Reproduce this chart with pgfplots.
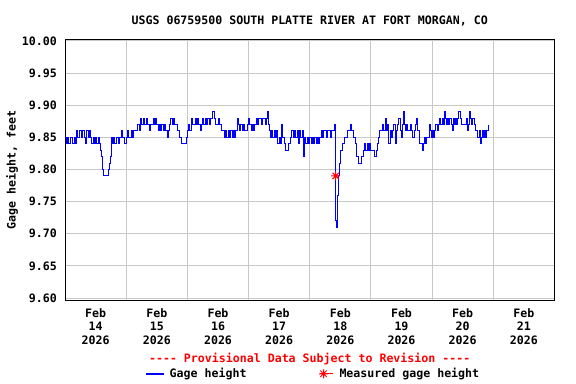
\documentclass[border=0pt]{standalone}
\usepackage{pgfplots}
\pgfplotsset{compat=1.18}
\usepackage{pgfplotstable}
\usepackage{fontspec}
\newfontfamily\usgsmono{DejaVu Sans Mono}
\newcommand\uf{\usgsmono\bfseries\fontsize{11.6bp}{13.5bp}\selectfont}
\definecolor{gridgray}{RGB}{200,200,200}
\definecolor{usgsblue}{RGB}{0,0,255}
\definecolor{usgsred}{RGB}{255,0,0}

\pgfdeclareplotmark{star8}{%
 \pgfpathmoveto{\pgfqpoint{-\pgfplotmarksize}{0pt}}\pgfpathlineto{\pgfqpoint{\pgfplotmarksize}{0pt}}%
 \pgfpathmoveto{\pgfqpoint{0pt}{-\pgfplotmarksize}}\pgfpathlineto{\pgfqpoint{0pt}{\pgfplotmarksize}}%
 \pgfpathmoveto{\pgfqpoint{-0.707\pgfplotmarksize}{-0.707\pgfplotmarksize}}\pgfpathlineto{\pgfqpoint{0.707\pgfplotmarksize}{0.707\pgfplotmarksize}}%
 \pgfpathmoveto{\pgfqpoint{-0.707\pgfplotmarksize}{0.707\pgfplotmarksize}}\pgfpathlineto{\pgfqpoint{0.707\pgfplotmarksize}{-0.707\pgfplotmarksize}}%
 \pgfusepathqstroke}

% hours since Feb 14 2026 00:00, gage height (ft)
\pgfplotstableread{
h v
0 9.85
0.5 9.84
1 9.85
1.5 9.84
2 9.85
2.5 9.85
3 9.84
3.5 9.85
4 9.84
4.5 9.86
5 9.85
5.5 9.86
6 9.86
6.5 9.85
7 9.86
7.5 9.85
8 9.84
8.5 9.86
9 9.85
9.5 9.86
10 9.85
10.5 9.84
11 9.85
11.5 9.84
12 9.85
12.5 9.84
13 9.85
13.5 9.84
14 9.83
14.4 9.82
14.8 9.80
15.2 9.79
16.6 9.79
16.9 9.80
17.3 9.81
17.7 9.82
18.2 9.85
18.5 9.84
19 9.85
19.5 9.84
20 9.85
20.5 9.85
21 9.84
21.5 9.85
22 9.86
22.5 9.85
23 9.85
23.5 9.84
24 9.85
24.5 9.86
25 9.85
25.5 9.85
26 9.86
26.5 9.85
27 9.86
27.5 9.86
28 9.86
28.5 9.87
29 9.86
29.4 9.88
29.8 9.87
30.2 9.87
30.6 9.88
31 9.87
31.5 9.87
32 9.88
32.5 9.87
33 9.86
33.5 9.87
34 9.87
34.5 9.88
35 9.87
35.5 9.88
36 9.87
36.5 9.86
37 9.87
37.5 9.86
38 9.87
38.5 9.86
39 9.87
39.5 9.86
40.2 9.85
40.6 9.86
41 9.87
41.5 9.88
42 9.87
42.5 9.88
43 9.87
43.5 9.87
44 9.86
44.5 9.86
45 9.85
45.5 9.84
47.3 9.84
47.6 9.85
48 9.86
48.5 9.87
49 9.86
49.5 9.88
50 9.87
50.5 9.87
51 9.88
51.5 9.87
52 9.88
52.5 9.87
53 9.86
53.5 9.87
54 9.88
54.5 9.87
55 9.88
55.5 9.87
56 9.88
56.5 9.87
57 9.88
57.5 9.88
58 9.89
58.5 9.88
59 9.87
59.5 9.87
60 9.88
60.5 9.87
61 9.87
61.5 9.86
62 9.86
62.5 9.85
63 9.86
63.5 9.85
64 9.86
64.5 9.85
65 9.86
65.5 9.85
66 9.86
66.5 9.85
67 9.86
67.5 9.88
68 9.87
68.5 9.86
69 9.87
69.5 9.86
70 9.87
70.5 9.86
71 9.86
71.5 9.87
72 9.88
72.5 9.87
73 9.86
73.5 9.87
74 9.86
74.5 9.87
75 9.88
75.5 9.87
76 9.88
76.5 9.88
77 9.87
77.5 9.88
78 9.88
78.5 9.87
79 9.88
79.4 9.89
79.8 9.87
80.2 9.86
80.6 9.85
81 9.86
81.5 9.85
82 9.86
82.5 9.85
83 9.86
83.5 9.84
84 9.85
84.5 9.84
85 9.87
85.5 9.85
86 9.84
86.5 9.83
87 9.83
87.5 9.84
88 9.84
88.5 9.85
89 9.86
89.5 9.85
90 9.86
90.5 9.85
91 9.86
91.5 9.84
92 9.86
92.5 9.85
93 9.86
93.5 9.82
94 9.85
94.5 9.84
95 9.85
95.5 9.84
96 9.85
96.5 9.84
97 9.85
97.5 9.84
98 9.85
98.5 9.84
99 9.85
99.5 9.84
100 9.85
100.5 9.86
101 9.85
101.5 9.86
102 9.86
102.5 9.85
103 9.86
103.5 9.86
104 9.85
104.5 9.86
105 9.86
105.5 9.86
105.8 9.87
106 9.76
106.2 9.72
106.5 9.71
106.8 9.72
107 9.76
107.2 9.79
107.5 9.81
107.9 9.82
108.2 9.83
108.8 9.84
109.5 9.84
109.8 9.85
110.3 9.85
110.8 9.86
111.3 9.86
111.8 9.87
112.2 9.86
112.8 9.86
113.3 9.85
113.8 9.84
114.2 9.82
114.8 9.82
115.3 9.81
116 9.81
116.4 9.82
117 9.83
117.6 9.84
118 9.83
118.5 9.84
119 9.83
119.5 9.84
120 9.83
121 9.83
121.5 9.82
122 9.83
122.5 9.84
123 9.85
123.5 9.86
124 9.86
124.4 9.87
124.8 9.86
125.2 9.86
125.6 9.88
126 9.86
126.5 9.87
127 9.84
127.5 9.86
128 9.85
128.5 9.86
129 9.87
129.5 9.86
129.8 9.84
130.2 9.86
130.6 9.87
131 9.88
131.5 9.86
132 9.85
132.4 9.87
132.7 9.89
133 9.87
133.5 9.86
134 9.87
134.5 9.86
135 9.86
135.5 9.87
136 9.86
136.5 9.85
137 9.86
137.4 9.87
137.8 9.88
138.2 9.86
138.7 9.86
139.2 9.84
139.7 9.84
140.2 9.83
140.6 9.84
141 9.85
141.5 9.84
142 9.85
142.5 9.85
143 9.87
143.4 9.86
143.8 9.85
144.2 9.86
144.6 9.85
145 9.86
145.5 9.87
146 9.86
146.5 9.87
147 9.88
147.5 9.87
148 9.88
148.4 9.87
148.8 9.89
149.2 9.88
149.6 9.87
150 9.88
150.5 9.87
151 9.88
151.5 9.87
152 9.86
152.4 9.88
152.8 9.87
153.2 9.88
153.6 9.87
154 9.88
154.5 9.89
155 9.88
155.4 9.87
156 9.87
157 9.87
157.5 9.88
158 9.86
158.4 9.87
158.7 9.89
159 9.88
159.5 9.87
160 9.88
160.5 9.87
161 9.86
161.5 9.86
162 9.85
162.5 9.86
163 9.84
163.4 9.85
163.8 9.86
164.2 9.85
164.6 9.86
165 9.85
165.5 9.86
166 9.86
166.3 9.87
}\gagedata

\begin{document}
\begin{tikzpicture}
\useasboundingbox (0,0) rectangle (576bp,384bp);
\begin{axis}[
  at={(65.1bp,83.8bp)}, anchor=south west,
  scale only axis, width=489.3bp, height=260.9bp,
  xmin=0, xmax=192, ymin=9.5966, ymax=10.0026,
  xtick={0,24,48,72,96,120,144,168,192}, xticklabels={},
  ytick={9.60,9.65,9.70,9.75,9.80,9.85,9.90,9.95,10.00},
  grid=major, major grid style={draw=gridgray, line width=1bp},
  major tick length=0pt,
  axis line style={black, line width=1.2bp},
  tick label style={font=\uf},
  /pgf/number format/assume math mode=true,
  y tick label style={/pgf/number format/.cd, fixed, fixed zerofill, precision=2, /tikz/.cd, inner sep=0pt, xshift=-8bp},
  extra x ticks={12,36,60,84,108,132,156,180},
  extra x tick labels={{Feb\\14\\2026},{Feb\\15\\2026},{Feb\\16\\2026},{Feb\\17\\2026},{Feb\\18\\2026},{Feb\\19\\2026},{Feb\\20\\2026},{Feb\\21\\2026}},
  extra x tick style={grid=none, major tick length=0pt, x tick label style={align=center, inner sep=0pt, anchor=north, yshift=-8bp}},
  legend columns=2,
  legend style={at={(0.1651,-0.282)}, anchor=west, draw=none, fill=none, inner sep=0pt, outer sep=0pt,
    font=\uf, nodes={inner sep=0pt},
    /tikz/every odd column/.append style={column sep=6bp},
    /tikz/every even column/.append style={column sep=72.5bp}},
  legend cell align=left,
]
\addplot[const plot, draw=usgsblue, line width=1bp, no marks,
  legend image code/.code={\fill[usgsblue] (0bp,-0.6bp) rectangle (16.8bp,0.6bp);}]
  table[x=h, y=v] {\gagedata};
\addlegendentry{Gage height}
\addplot[only marks, mark=star8, mark size=4.5bp, draw=usgsred, line width=1bp,
  legend image code/.code={\path (0bp,0bp) -- (13.5bp,0bp); \draw[draw=usgsred, line width=1bp] plot[mark=star8, mark size=4.5bp] coordinates {(4bp,0bp)};}]
  coordinates {(106.2,9.79)};
\addlegendentry{Measured gage height}
\end{axis}
\node[font=\uf, anchor=base] at (309.7bp,359bp) {USGS 06759500 SOUTH PLATTE RIVER AT FORT MORGAN, CO};
\node[font=\uf, text=usgsred, anchor=base] at (309.7bp,21.5bp) {---- Provisional Data Subject to Revision ----};
\node[font=\uf, rotate=90] at (12bp,214.2bp) {Gage height, feet};
\end{tikzpicture}
\end{document}
